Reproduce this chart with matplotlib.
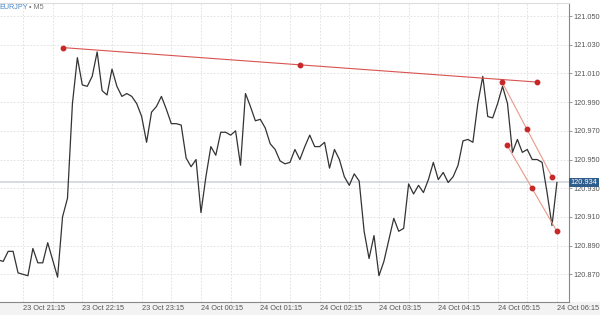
import matplotlib
matplotlib.use("Agg")
import matplotlib.pyplot as plt
import matplotlib.transforms as mtransforms
from matplotlib.patches import Rectangle
import numpy as np

plt.rcParams["font.family"] = ["Liberation Sans", "DejaVu Sans"]

# 5-minute bars, index 0 = 23 Oct 21:15
bar_start = -5
closes = [
    120.880, 120.879, 120.886, 120.886, 120.871, 120.870, 120.869, 120.888, 120.878, 120.878,
    120.892, 120.880, 120.868, 120.910, 120.923, 120.989, 121.021, 121.002, 121.001, 121.008,
    121.025, 120.998, 120.995, 121.013, 121.001, 120.994, 120.996, 120.994, 120.989, 120.980,
    120.962, 120.983, 120.987, 120.994, 120.985, 120.975, 120.975, 120.974, 120.951, 120.945,
    120.950, 120.913, 120.938, 120.959, 120.953, 120.969, 120.969, 120.967, 120.970, 120.946,
    120.996, 120.987, 120.977, 120.978, 120.972, 120.961, 120.957, 120.949, 120.947, 120.948,
    120.957, 120.950, 120.959, 120.967, 120.959, 120.959, 120.962, 120.944, 120.957, 120.950,
    120.938, 120.932, 120.940, 120.935, 120.900, 120.881, 120.897, 120.869, 120.879, 120.894,
    120.909, 120.900, 120.902, 120.933, 120.926, 120.932, 120.927, 120.936, 120.948, 120.936,
    120.941, 120.934, 120.938, 120.946, 120.963, 120.964, 120.962, 120.989, 121.008, 120.980,
    120.979, 120.989, 121.001, 120.989, 120.955, 120.964, 120.955, 120.957, 120.950, 120.950,
    120.948, 120.927, 120.904, 120.934,
]
last_price = 120.934

# drawn trend lines: (bar, price) at both ends
top_line_x = [8.1, 103.9]
top_line_y = [121.028, 121.004]
chan_up_x = [96.9, 107.0]
chan_up_y = [121.004, 120.938]
chan_low_x = [97.9, 108.0]
chan_low_y = [120.960, 120.900]

xtick_bars = [0, 12, 24, 36, 48, 60, 72, 84, 96, 108]
xtick_labels = ["23 Oct 21:15", "23 Oct 22:15", "23 Oct 23:15", "24 Oct 00:15",
                "24 Oct 01:15", "24 Oct 02:15", "24 Oct 03:15", "24 Oct 04:15",
                "24 Oct 05:15", "24 Oct 06:15"]
ytick_vals = [120.870, 120.890, 120.910, 120.930, 120.950, 120.970,
              120.990, 121.010, 121.030, 121.050]

bars = np.arange(bar_start, bar_start + len(closes))

fig = plt.figure(figsize=(6, 3.15), dpi=100)
fig.patches.append(Rectangle((0, 0), 1, 0.041, transform=fig.transFigure,
                             color="#f3f3f3", zorder=-5))
ax = fig.add_axes([0, 0.0413, 0.948, 0.9492])

# grid
for b in range(-6, 114, 6):
    ax.axvline(b, color="#dddddd", lw=0.6, ls=(0, (2, 2)), zorder=0)
for v in ytick_vals:
    ax.axhline(v, color="#dddddd", lw=0.6, ls=(0, (2, 2)), zorder=0)

ax.axhline(last_price, color="#cfd6de", lw=1.2, zorder=1)

ax.plot(bars, closes, color="#333333", lw=0.9, zorder=3)

def trend(xs, ys, col):
    ax.plot(xs, ys, color=col, lw=0.8, zorder=4)
    mx = [xs[0], (xs[0] + xs[1]) / 2, xs[1]]
    my = [ys[0], (ys[0] + ys[1]) / 2, ys[1]]
    ax.plot(mx, my, ls="none", marker="o", ms=3.2, color="#c62828", zorder=5)

trend(top_line_x, top_line_y, "#d9534f")
trend(chan_up_x, chan_up_y, "#e8998a")
trend(chan_low_x, chan_low_y, "#e8998a")

ax.set_xlim(-4.65, 110.4)
ax.set_ylim(120.8507, 121.0591)

ax.yaxis.tick_right()
ax.set_yticks(ytick_vals)
ax.set_yticklabels(["%.3f" % v for v in ytick_vals])
ax.set_xticks(xtick_bars)
ax.set_xticklabels(xtick_labels, ha="left")
ax.tick_params(axis="y", labelsize=5.3, labelcolor="#555555", color="#888888",
               length=2.5, width=0.6, pad=1)
ax.tick_params(axis="x", labelsize=5.3, labelcolor="#555555", length=0, pad=2.5)

ax.spines["left"].set_visible(False)
ax.spines["top"].set_color("#dddddd")
ax.spines["right"].set_color("#888888")
ax.spines["bottom"].set_color("#888888")
for s in ax.spines.values():
    s.set_linewidth(0.8)

trans = mtransforms.blended_transform_factory(ax.transAxes, ax.transData)
ax.text(1.003, last_price, "%.3f" % last_price, transform=trans, fontsize=5.3,
        color="white", va="center", ha="left", zorder=6, clip_on=False,
        bbox=dict(boxstyle="square,pad=0.2", fc="#2f5d8c", ec="none"))

fig.text(-0.001, 0.977, "EURJPY", color="#4a86c8", fontsize=5.2, va="center", ha="left")
fig.text(0.049, 0.977, "\u2022 M5", color="#777777", fontsize=5.2, va="center", ha="left")

fig.savefig("out.png", dpi=100)
